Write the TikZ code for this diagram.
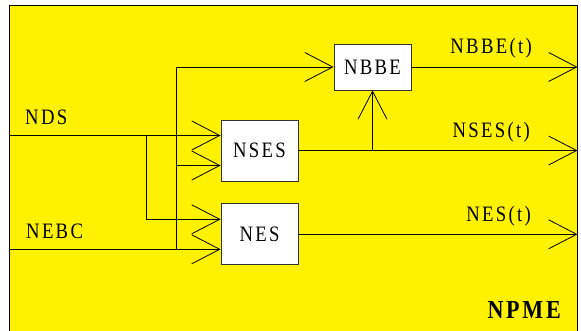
\documentclass[tikz,border=0pt]{standalone}
\usepackage{fontspec}
\newfontfamily\sigfont{Liberation Serif}[FakeStretch=0.85, LetterSpace=10.5]
\usetikzlibrary{positioning, arrows.meta, calc}

\begin{document}
\begin{tikzpicture}[
  x=1pt, y=1pt,
  frame/.style={
    rectangle, draw=black, fill=yellow, line width=1pt,
    minimum width=568pt, minimum height=330pt, inner sep=0pt
  },
  block/.style={
    rectangle, draw=black!80, fill=white, line width=0.8pt,
    minimum width=77pt, minimum height=61pt, inner sep=0pt,
    font=\sigfont\fontsize{22}{26}\selectfont
  },
  arr/.style={-{Straight Barb[length=28pt, width=29pt]}, line width=0.8pt},
  sig/.style={font=\sigfont\fontsize{22}{26}\selectfont, inner sep=0pt},
]
\useasboundingbox (0,0) rectangle (581,330);

% Frame
\node[frame] (frame) at (293,159) {};
\node[font=\sigfont\bfseries\fontsize{26}{30}\selectfont, inner sep=0pt,
      anchor=base east] (npme) at (561,12) {NPME};

% Blocks
\node[block] (nses) at (259.5,179.5) {NSES};
\node[block, below=22pt of nses] (nes) {NES};
\node[block, minimum height=46pt] (nbbe) at (372.5,263) {NBBE};

% Ports
\coordinate (nsesA) at ($(nses.west)+(0,15)$);
\coordinate (nsesB) at ($(nses.west)+(0,-15)$);
\coordinate (nesA) at ($(nes.west)+(0,15)$);
\coordinate (nesB) at ($(nes.west)+(0,-15)$);
\coordinate (tap) at (146,0);
\coordinate (bus) at (176,0);

% Inputs
\draw[arr] (nsesA -| frame.west) -- (nsesA);
\draw[arr] (nesB -| frame.west) -- (nesB);
\draw[arr] (nsesA -| tap) |- (nesA);
\draw[arr] (nesB -| bus) |- (nbbe.west);
\draw[arr] (nsesB -| bus) -- (nsesB);

% Outputs
\draw[arr] (nbbe.east) -- (nbbe.east -| frame.east);
\draw[arr] (nses.east) -- (nses.east -| frame.east);
\draw[arr] (nes.east) -- (nes.east -| frame.east);
\draw[arr] (nses.east -| nbbe.south) -- (nbbe.south);

% Labels
\node[sig, anchor=base west] (ndslbl) at (25,205) {NDS};
\node[sig, anchor=base west] (nebclbl) at (26,92) {NEBC};
\node[sig, anchor=base east] (nbbelbl) at (532,276) {NBBE(t)};
\node[sig, anchor=base east] (nseslbl) at (530,193) {NSES(t)};
\node[sig, anchor=base east] (neslbl) at (531,109) {NES(t)};

\end{tikzpicture}
\end{document}
